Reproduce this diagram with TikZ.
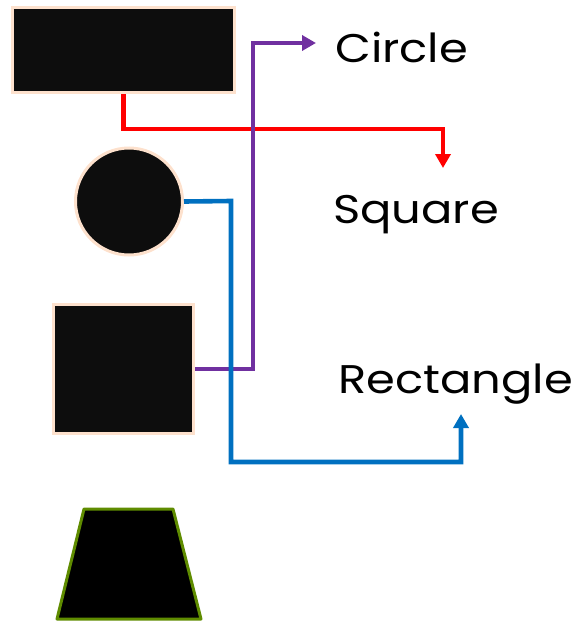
\documentclass[tikz,border=0pt]{standalone}
\usepackage{fontspec}
\setmainfont{Poppins}
\usetikzlibrary{arrows.meta}
\definecolor{shapefill}{HTML}{0D0D0D}
\definecolor{peach}{HTML}{FDE1CD}
\definecolor{olive}{HTML}{5F8C00}
\definecolor{linkred}{HTML}{FF0000}
\definecolor{linkpurple}{HTML}{7030A0}
\definecolor{linkblue}{HTML}{0070C0}
\newcommand{\widetext}[1]{\scalebox{1.16}[1]{#1}}
\tikzset{
  shapebox/.style={fill=shapefill, draw=peach, line width=3pt},
  link/.style={line width=4.6pt, -{Triangle[length=14pt,width=15pt]}},
  label/.style={anchor=base west, inner sep=0pt, font=\fontsize{40}{40}\selectfont}
}
\begin{document}
\begin{tikzpicture}[x=1pt, y=-1pt]
  \useasboundingbox (0,0) rectangle (583,621);
  % shapes on the left
  \node[shapebox, minimum width=222pt, minimum height=85pt, inner sep=0pt] (rect) at (123.5,50) {};
  \node[shapebox, circle, minimum size=107pt, inner sep=0pt] (circ) at (129,201.5) {};
  \node[shapebox, minimum width=140pt, minimum height=129pt, inner sep=0pt] (sq) at (123.5,369) {};
  \draw[fill=black, draw=olive, line width=3pt, line join=round] (84,509) -- (173,509) -- (201,619) -- (57,619) -- cycle;
  % labels
  \node[label] (lcircle) at (335,62) {\widetext{Circle}};
  \node[label] (lsquare) at (333,223) {\widetext{Square}};
  \node[label] (lrect) at (338,393) {\widetext{Rectangle}};
  % connector end points
  \coordinate (redend) at (443,168);
  \coordinate (purpend) at (316,43);
  \coordinate (blueend) at (461,414);
  \draw[link, linkred] (rect.south) |- (443,129) -- (redend);
  \draw[link, linkpurple] (sq.east) -- (253,369) |- (purpend);
  \draw[link, linkblue] (circ.east) -- (231,201) |- (461,462) -- (blueend);
\end{tikzpicture}
\end{document}
